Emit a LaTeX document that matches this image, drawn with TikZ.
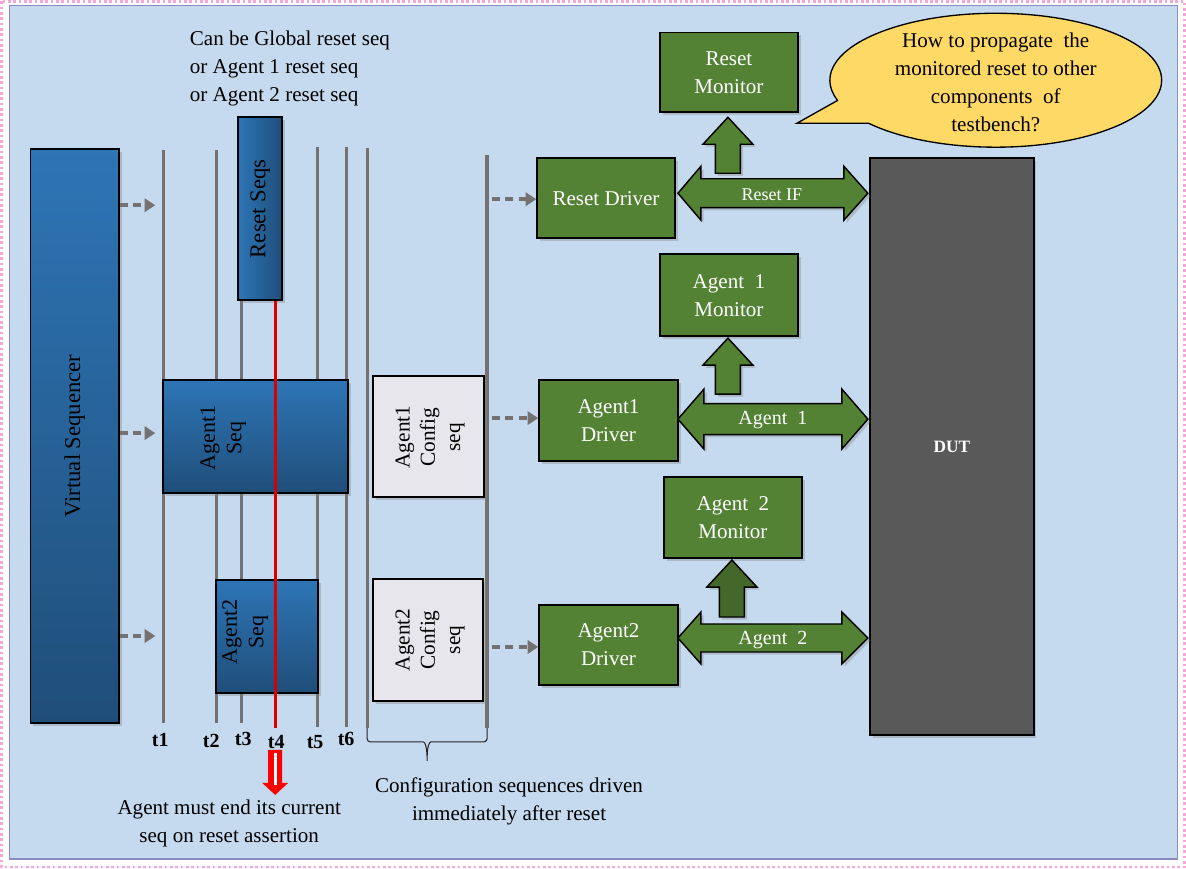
\documentclass[tikz,border=0pt]{standalone}
\usepackage{fontspec}
\setmainfont{Liberation Serif}
\usetikzlibrary{shadows,fit,calc,arrows.meta}
\definecolor{panel}{HTML}{C5DAEF}
\definecolor{gline}{HTML}{767171}
\definecolor{gfill}{HTML}{548235}
\definecolor{gfillD}{HTML}{43682A}
\definecolor{blueL}{HTML}{2E75B6}
\definecolor{blueD}{HTML}{1F4E79}
\definecolor{cfg}{HTML}{E7E6EC}
\definecolor{dutc}{HTML}{595959}
\definecolor{bub}{HTML}{FFD966}
\newcommand\myuparr[5]{% cx, tip, base, bottom, color
  \draw[blk, fill=#5] (#1,#2) -- (#1+25,#3) -- (#1+12.5,#3) -- (#1+12.5,#4) -- (#1-12.5,#4) -- (#1-12.5,#3) -- (#1-25,#3) -- cycle;}
\newcommand\mydarr[7]{% x1,x2,cy,hx1,hx2,hh,sh
  \draw[blk, fill=gfill] (#1,#3) -- (#4,#3-#6) -- (#4,#3-#7) -- (#5,#3-#7) -- (#5,#3-#6) -- (#2,#3) -- (#5,#3+#6) -- (#5,#3+#7) -- (#4,#3+#7) -- (#4,#3+#6) -- cycle;}
\begin{document}
\begin{tikzpicture}[x=0.75pt,y=-0.75pt,
  every node/.style={font=\fontsize{15.8}{21}\selectfont},
  shd/.style={drop shadow={opacity=0.35,shadow xshift=2pt,shadow yshift=-2pt}},
  blk/.style={draw=black, line width=1.1pt, shd},
  gbox/.style={draw=black, line width=1.2pt, fill=gfill, text=white, inner sep=0pt, align=center, shd},
  bbox/.style={draw=black, line width=1.2pt, inner sep=0pt, shd},
  cbox/.style={draw=black, line width=1.2pt, fill=cfg, inner sep=0pt, shd},
  tline/.style={draw=gline, line width=2.4pt},
  darr/.style={draw=gline, line width=2.6pt, dash pattern=on 6pt off 4pt, -{Triangle[length=8pt,width=10pt]}},
  tlab/.style={font=\fontsize{15}{17}\selectfont\bfseries},
  rtxt/.style={rotate=90, align=center},
]
% background
\fill[white] (0,0) rectangle (1186,868);
\draw[magenta!35, dotted, line width=2pt] (1,1) rectangle (1185,867);
\draw[draw=blue!30!gray!70, fill=panel, line width=1pt] (9,5) rectangle (1178,859);

% virtual sequencer
\node[bbox, top color=blueL, bottom color=blueD, fit={(30,149) (119,723)}] (vs) {};
\node[rtxt, font=\fontsize{17}{20}\selectfont] at (vs.center) {Virtual Sequencer};

% timeline lines
\coordinate (l1t) at (163,150); \coordinate (l1b) at (163,723);
\coordinate (l2t) at (216,150); \coordinate (l2b) at (216,723);
\coordinate (l3t) at (241,300); \coordinate (l3b) at (241,723);
\coordinate (l5t) at (317,147); \coordinate (l5b) at (317,727);
\coordinate (l6t) at (346,147); \coordinate (l6b) at (346,727);
\coordinate (l7t) at (367,148); \coordinate (l7b) at (367,728);
\coordinate (l8t) at (487,155); \coordinate (l8b) at (487,728);
\foreach \a in {1,2,3,5,6,7,8} \draw[tline] (l\a t) -- (l\a b);

% dashed arrows from VS
\coordinate (a1) at (155,205); \coordinate (a2) at (155,433); \coordinate (a3) at (155,636);
\foreach \a in {a1,a2,a3} \draw[darr] (vs.east |- \a) -- (\a);

% reset seqs
\node[bbox, left color=blueL, right color=blueD, fit={(238,117) (282,300)}] (rs) {};
\node[rtxt, font=\fontsize{17}{20}\selectfont] at (rs.center) {Reset Seqs};

% agent seqs
\node[bbox, top color=blueL, bottom color=blueD, fit={(163,380) (348,493)}] (a1s) {};
\node[rtxt, font=\fontsize{16.5}{20}\selectfont] at (223,438) {Agent1\\Seq};
\node[bbox, top color=blueL, bottom color=blueD, fit={(216,580) (318,693)}] (a2s) {};
\node[rtxt, font=\fontsize{16.5}{20}\selectfont] at (245,632) {Agent2\\Seq};

% config seqs
\node[cbox, fit={(373,376) (484,497)}] (c1) {};
\node[rtxt, font=\fontsize{16}{19}\selectfont] at (430,437) {Agent1\\Config\\seq};
\node[cbox, fit={(373,579) (483,701)}] (c2) {};
\node[rtxt, font=\fontsize{16}{19}\selectfont] at (430,640) {Agent2\\Config\\seq};

% red reset line
\coordinate (rbot) at (275,728);
\draw[red!85!black, line width=2.4pt] (rs.south -| rbot) -- (rbot);
\fill[red] (268,750) -- (282,750) -- (282,783) -- (288,783) -- (275,795) -- (262,783) -- (268,783) -- cycle;
\fill[white] (273.5,753) rectangle (276.5,785);

% t labels
\node[tlab] (t1) at (160,740) {t1};
\node[tlab] (t2) at (211,741) {t2};
\node[tlab] (t3) at (243,739) {t3};
\node[tlab] (t4) at (276,742) {t4};
\node[tlab] (t5) at (315,742) {t5};
\node[tlab] (t6) at (346,739) {t6};

% brace
\draw[gray!30!black, line width=0.8pt, rounded corners=2.5pt] (l7b) -- (367,742) -- (420,742)
  .. controls (425,742) and (427,747) .. (427,763)
  .. controls (427,747) and (429,742) .. (434,742) -- (487,742) -- (l8b);

% annotations
\node[align=left, anchor=west] (note1) at (185,68) {Can be Global reset seq\\or Agent 1 reset seq\\or Agent 2 reset seq};
\node[align=center] (note2) at (229,824) {Agent must end its current\\seq on reset assertion};
\node[align=center] (note3) at (509,801) {Configuration sequences driven\\immediately after reset};

% drivers & monitors
\node[gbox, fit={(537,158) (675,238)}] (rd) {};
\node[text=white] at (rd.center) {Reset Driver};
\node[gbox, fit={(660,32) (798,112)}] (rm) {};
\node[text=white, align=center] at (rm.center) {Reset\\Monitor};
\node[gbox, fit={(660,254) (798,336)}] (m1) {};
\node[text=white, align=center] at (m1.center) {Agent~~1\\Monitor};
\node[gbox, fit={(539,380) (678,461)}] (d1) {};
\node[text=white, align=center] at (d1.center) {Agent1\\Driver};
\node[gbox, fit={(664,477) (802,558)}] (m2) {};
\node[text=white, align=center] at (m2.center) {Agent~~2\\Monitor};
\node[gbox, fit={(539,605) (678,685)}] (d2) {};
\node[text=white, align=center] at (d2.center) {Agent2\\Driver};

% DUT
\node[bbox, fill=dutc, fit={(870,158) (1034,735)}] (dut) {};
\node[text=white, font=\fontsize{13}{15}\selectfont\bfseries] at (dut.center) {DUT};

% dashed arrows to drivers
\coordinate (b1) at (492,199); \coordinate (b2) at (492,418); \coordinate (b3) at (492,647);
\draw[darr] (b1) -- (rd.west |- b1);
\draw[darr] (b2) -- (d1.west |- b2);
\draw[darr] (b3) -- (d2.west |- b3);

% block arrows
\myuparr{728}{117}{144}{173}{gfill}
\myuparr{728}{338}{365}{394}{gfill}
\myuparr{732}{560}{587}{617}{gfillD}
\mydarr{678}{868}{193}{701}{844}{27}{14.5}
\mydarr{678}{868}{419}{704}{842}{30}{15.5}
\mydarr{678}{868}{638}{701}{842}{26}{14}
\node[text=white, font=\fontsize{13.5}{15}\selectfont] (lif) at (772,194) {Reset IF};
\node[text=white, font=\fontsize{15}{18}\selectfont] (la1) at (773,420) {Agent~~1};
\node[text=white, font=\fontsize{15}{18}\selectfont] (la2) at (773,640) {Agent~~2};

% speech bubble
\draw[draw=black, line width=1pt, fill=bub] (837.6,100.2) -- (797,123) -- (868.8,123) arc[start angle=140, end angle=-197.5, x radius=166, y radius=67] -- cycle;
\node[align=center] (bq) at (996,82) {How to propagate~~the\\monitored reset to other\\components~~of\\testbench?};
\end{tikzpicture}
\end{document}
